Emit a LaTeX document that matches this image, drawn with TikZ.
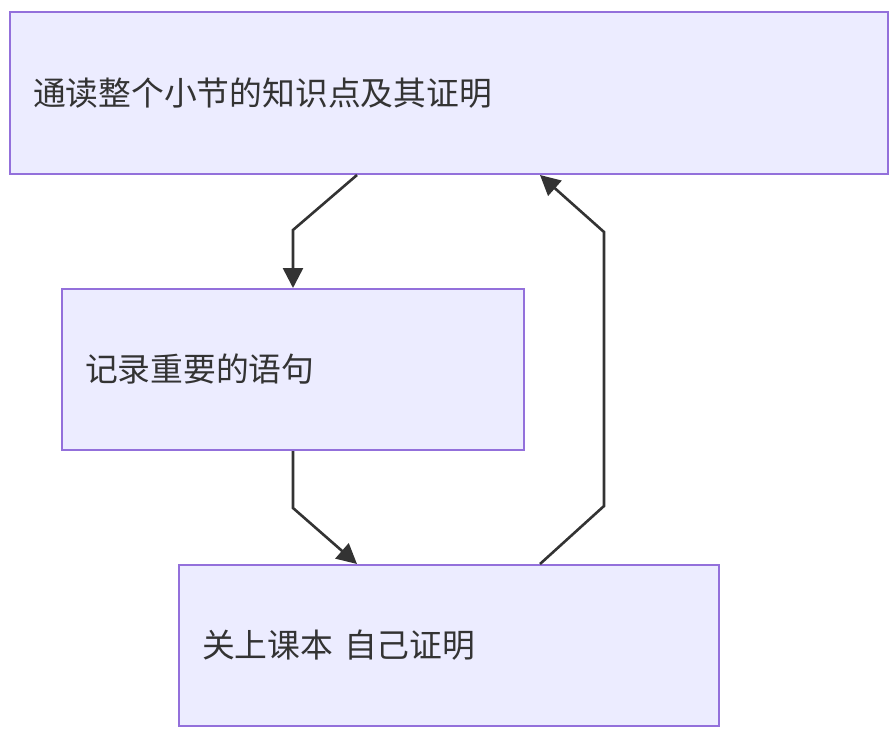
\documentclass[tikz,border=0pt]{standalone}
\usepackage{fontspec}
\newfontfamily\cjk{Noto Sans CJK SC}
\usepackage{tikz}
\usetikzlibrary{arrows.meta, positioning, calc}
\definecolor{boxfill}{HTML}{ECECFF}
\definecolor{boxline}{HTML}{9370DB}
\definecolor{ink}{HTML}{333333}

\begin{document}
\begin{tikzpicture}[
    x=0.5pt, y=-0.5pt,
    stepbox/.style={draw=boxline, fill=boxfill, line width=1pt, inner xsep=11.5pt, inner ysep=0pt,
        align=left, text=ink, font=\cjk\fontsize{16.4}{20}\selectfont},
    flow/.style={draw=ink, line width=1.3pt, -{Triangle[length=10pt, width=10pt]}}
]
    \useasboundingbox (0,0) rectangle (896,734);
    \node[stepbox, minimum width=439pt, minimum height=81pt, text width=416pt] (read) at (449,93) {通读整个小节的知识点及其证明};
    \node[stepbox, minimum width=231pt, minimum height=80.5pt, text width=208pt] (note) at (293,369.5) {记录重要的语句};
    \node[stepbox, minimum width=270pt, minimum height=80.5pt, text width=247pt] (prove) at (449,645.5) {关上课本 自己证明};
    \draw[flow] ($(read.south)+(-92,0)$) -- ($(note.north)+(0,-58)$) -- (note.north);
    \draw[flow] (note.south) -- ($(note.south)+(0,57)$) -- ($(prove.north)+(-92,0)$);
    \draw[flow] ($(prove.north)+(91,0)$) -- ($(prove.north)+(155,-58)$) -- ($(read.south)+(155,57)$) -- ($(read.south)+(91,0)$);
\end{tikzpicture}
\end{document}
